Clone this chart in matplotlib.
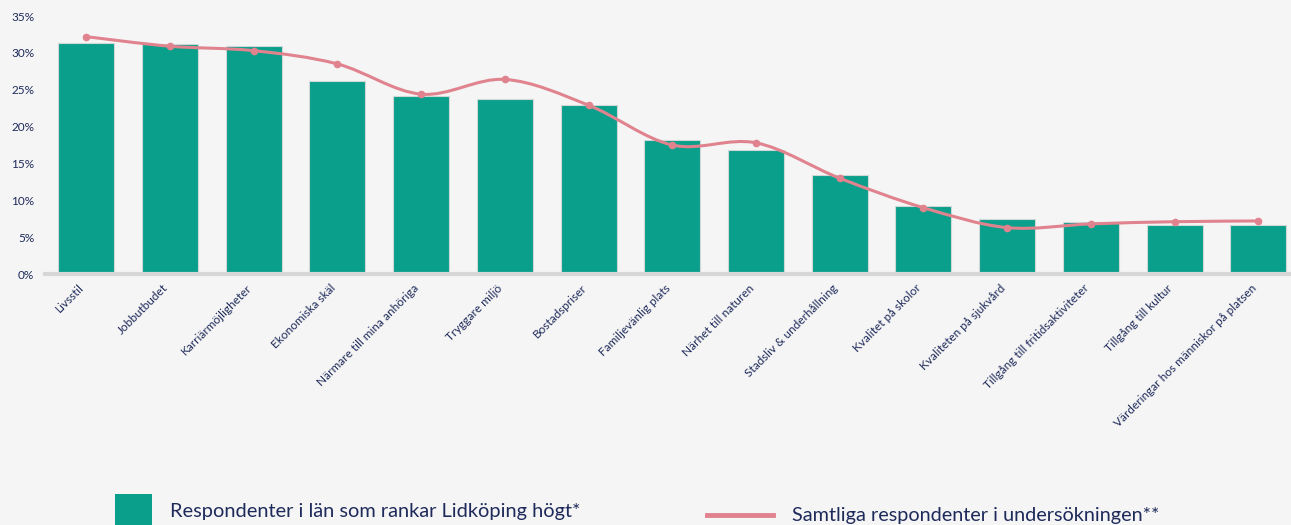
import matplotlib
matplotlib.use("Agg")
import matplotlib.pyplot as plt
import numpy as np
from matplotlib.path import Path
from matplotlib.patches import PathPatch, Rectangle
from matplotlib.lines import Line2D
from matplotlib.ticker import FuncFormatter

categories = ["Livsstil", "Jobbutbudet", "Karriärmöjligheter", "Ekonomiska skäl",
              "Närmare till mina anhöriga", "Tryggare miljö", "Bostadspriser",
              "Familjevänlig plats", "Närhet till naturen", "Stadsliv & underhållning",
              "Kvalitet på skolor", "Kvaliteten på sjukvård", "Tillgång till fritidsaktiviteter",
              "Tillgång till kultur", "Värderingar hos människor på platsen"]
lidkoping = [31.3, 31.2, 31.0, 26.2, 24.1, 23.8, 22.9, 18.2, 16.8, 13.5, 9.2, 7.5, 7.0, 6.6, 6.6]
samtliga = [32.2, 30.9, 30.3, 28.5, 24.4, 26.4, 22.9, 17.5, 17.8, 13.0, 9.0, 6.3, 6.8, 7.1, 7.2]
legend_labels = ["Respondenter i län som rankar Lidköping högt*",
                 "Samtliga respondenter i undersökningen**"]

teal = "#0a9f8a"
pink = "#e0838e"
navy = "#1e2a5a"
bg = "#f5f5f5"

plt.rcParams['font.family'] = ['Lato', 'DejaVu Sans']

fig = plt.figure(figsize=(12.91, 5.25), dpi=100, facecolor=bg)
ax = fig.add_axes([0.035, 0.478, 0.965, 0.4915])
ax.set_facecolor(bg)

x = np.arange(len(categories))
ax.bar(x, lidkoping, width=0.67, color=teal, edgecolor="#cfd8d6", linewidth=0.8, zorder=2)

# smooth curve through the points (Catmull-Rom as cubic Bezier segments)
pts = np.column_stack([x, samtliga])
verts = [tuple(pts[0])]
codes = [Path.MOVETO]
for i in range(len(pts) - 1):
    p0 = pts[i - 1] if i > 0 else pts[i]
    p1 = pts[i]
    p2 = pts[i + 1]
    p3 = pts[i + 2] if i + 2 < len(pts) else pts[i + 1]
    c1 = p1 + (p2 - p0) / 6.0
    c2 = p2 - (p3 - p1) / 6.0
    verts += [tuple(c1), tuple(c2), tuple(p2)]
    codes += [Path.CURVE4] * 3
ax.add_patch(PathPatch(Path(verts, codes), facecolor="none", edgecolor=pink, lw=2.2, zorder=3))
ax.plot(x, samtliga, "o", color=pink, markersize=4.5, zorder=4)

ax.set_ylim(0, 35)
ax.set_xlim(-0.49, 14.39)
ax.set_yticks(np.arange(0, 36, 5))
ax.yaxis.set_major_formatter(FuncFormatter(lambda v, p: f"{int(v)}%"))
ax.tick_params(axis="y", length=0, labelsize=8.5, labelcolor=navy, pad=8)
ax.tick_params(axis="x", length=0, labelsize=8.5, labelcolor=navy, pad=6)
ax.set_xticks(x)
ax.set_xticklabels(categories, rotation=45, ha="right", va="top")

for s in ["top", "right", "left"]:
    ax.spines[s].set_visible(False)
ax.spines["bottom"].set_color("#d6d6d6")
ax.spines["bottom"].set_linewidth(3)

# legend
fig.add_artist(Rectangle((115 / 1291, 0), 37 / 1291, 31 / 525, transform=fig.transFigure,
                         facecolor=teal, edgecolor="none"))
fig.text(170 / 1291, 1 - 511 / 525, legend_labels[0], fontsize=14.4, color=navy, va="center", ha="left")
fig.add_artist(Line2D([707 / 1291, 773 / 1291], [1 - 515 / 525, 1 - 515 / 525],
                      transform=fig.transFigure, color=pink, lw=3.5))
fig.text(792 / 1291, 1 - 515 / 525, legend_labels[1], fontsize=14.3, color=navy, va="center", ha="left")

fig.savefig("out.png", dpi=100, facecolor=bg)
